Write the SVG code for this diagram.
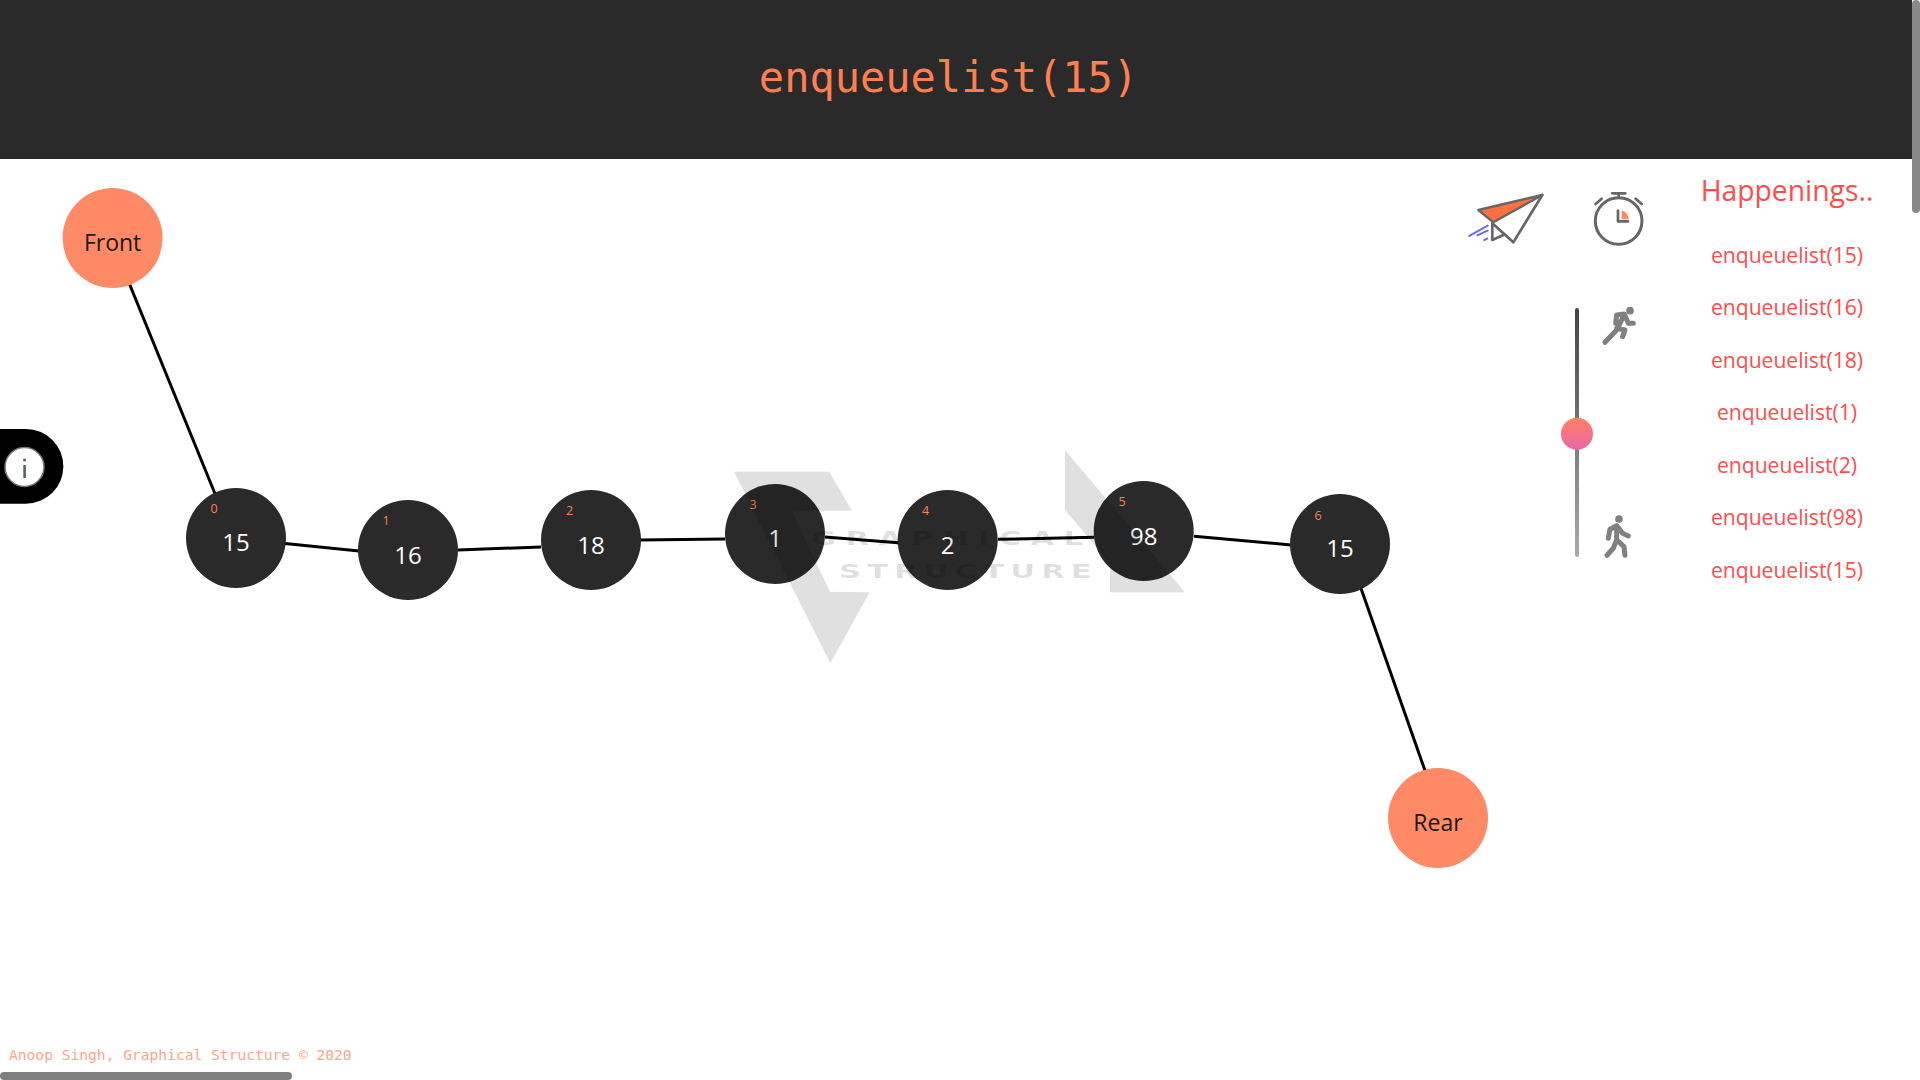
<svg xmlns="http://www.w3.org/2000/svg" width="1920" height="1080" viewBox="0 0 1920 1080">
<style>
text{font-family:"Open Sans","Noto Sans",sans-serif}
.node{fill:#2a2a2a}
.end{fill:#ff8a65}
.val{fill:#fff;font-size:24px;text-anchor:middle}
.idx{fill:#ff7f50;font-size:12.500px;text-anchor:middle}
.endt{fill:#1a1a1a;font-size:23px;text-anchor:middle}
.log{fill:#ff4d4d;font-size:21.100px;text-anchor:middle;font-weight:400}
.edge{stroke:#000;stroke-width:3;fill:none}
.wm{fill:#000;fill-opacity:.12}
.wt{font-family:"DejaVu Sans",sans-serif;font-weight:bold;font-size:19.200px;fill:#000;fill-opacity:.12}
.mono{font-family:"DejaVu Sans Mono",monospace}
.ic{fill:none;stroke:#666;stroke-width:8;stroke-linecap:round;stroke-linejoin:round}
.pers{fill:none;stroke:#808080;stroke-width:15;stroke-linecap:round;stroke-linejoin:round}
.sp{fill:none;stroke:#6a6aff;stroke-width:6;stroke-linecap:round}
</style>
<defs>
<linearGradient id="track" x1="0" y1="0" x2="0" y2="1"><stop offset="0" stop-color="#444"/><stop offset="1" stop-color="#aaa"/></linearGradient>
<linearGradient id="thumb" x1="0" y1="0" x2="0" y2="1"><stop offset="0" stop-color="#ff8060"/><stop offset="1" stop-color="#e868a8"/></linearGradient>
</defs>
<rect width="1920" height="1080" fill="#fff"/>
<g id="header"><rect width="1912" height="159" fill="#2a2a2a"/>
<text class="mono" x="948.500" y="92" style="font-size:42px;fill:#ff7f50" text-anchor="middle">enqueuelist(15)</text></g>
<g id="connectors">
<line class="edge" x1="125" y1="273" x2="220" y2="506"/>
<line class="edge" x1="285" y1="543.500" x2="359" y2="551"/>
<line class="edge" x1="458" y1="550" x2="541" y2="547"/>
<line class="edge" x1="640" y1="540" x2="725" y2="539"/>
<line class="edge" x1="825" y1="537" x2="898" y2="542.700"/>
<line class="edge" x1="998" y1="539.300" x2="1094.500" y2="537.300"/>
<line class="edge" x1="1194" y1="536.300" x2="1291" y2="545"/>
<line class="edge" x1="1357" y1="577" x2="1429" y2="782"/>
</g>
<g id="node-front"><circle class="end" cx="112.600" cy="238" r="50"/><text class="endt" x="112.600" y="251">Front</text></g>
<g id="node-0"><circle class="node" cx="236" cy="538" r="50"/><text class="idx" x="214" y="513">0</text><text class="val" x="236" y="551">15</text></g>
<g id="node-1"><circle class="node" cx="408" cy="550" r="50"/><text class="idx" x="386" y="525">1</text><text class="val" x="408" y="564">16</text></g>
<g id="node-2"><circle class="node" cx="591" cy="540" r="50"/><text class="idx" x="569.500" y="515">2</text><text class="val" x="591" y="554">18</text></g>
<g id="node-3"><circle class="node" cx="775" cy="534" r="50"/><text class="idx" x="753" y="509">3</text><text class="val" x="775" y="547">1</text></g>
<g id="node-4"><circle class="node" cx="947.700" cy="540" r="50"/><text class="idx" x="925.700" y="515">4</text><text class="val" x="947.700" y="554">2</text></g>
<g id="node-5"><circle class="node" cx="1143.700" cy="531" r="50"/><text class="idx" x="1122" y="506">5</text><text class="val" x="1143.700" y="545">98</text></g>
<g id="node-6"><circle class="node" cx="1340" cy="544" r="50"/><text class="idx" x="1318" y="520">6</text><text class="val" x="1340" y="557">15</text></g>
<g id="node-rear"><circle class="end" cx="1438" cy="818" r="50"/><text class="endt" x="1438" y="831">Rear</text></g>
<g id="watermark">
<polygon class="wm" points="734,471.700 829.300,471.700 852,510.700 791.700,510.700 830,591.700 869.700,592.300 830.300,663.300"/>
<polygon class="wm" points="1065,450 1185,592.300 1110,592.300 1110,563 1065,510"/>
<text class="wt" transform="translate(811 545) scale(1.600 1)" textLength="170" lengthAdjust="spacing">GRAPHICAL</text>
<text class="wt" transform="translate(839 578) scale(1.600 1)" textLength="158" lengthAdjust="spacing">STRUCTURE</text>
</g>
<g id="info"><path d="M0 429H26a37 37 0 0 1 0 74.700H0z" fill="#000"/><circle cx="24.500" cy="467" r="19.500" fill="#fff" stroke="#70747c" stroke-width="1.500"/><rect x="23.300" y="465" width="2.600" height="13" fill="#5a6070"/><circle cx="24.600" cy="460" r="1.600" fill="#5a6070"/></g>
<g id="plane" transform="translate(1440 160) scale(.3333)">
<polygon points="115,150 307,105 160,187" fill="#ff7040" stroke="#666" stroke-width="7" stroke-linejoin="round"/>
<path class="ic" d="M307 105L220 247L157 190M157 190V240L190 225"/>
<path class="sp" d="M88 228L143 197M112 226L143 212M133 240L142 236"/></g>
<g id="timer" transform="translate(1440 160) scale(.3333)">
<circle class="ic" cx="536" cy="183" r="70" style="stroke-width:9"/>
<path class="ic" d="M517 100H556M536 100V112M467 132L485 116M587 116L605 132"/>
<path d="M545 152A21 26 0 0 1 566 178H545z" fill="#ff8a65"/>
<path class="ic" d="M534 152V184H564"/></g>
<g id="slider"><rect x="1575" y="308" width="4" height="249" rx="2" fill="url(#track)"/><circle cx="1577" cy="433.700" r="16" fill="url(#thumb)"/></g>
<g id="runner" transform="translate(1440 160) scale(.3333)"><circle cx="570" cy="452" r="11.500" fill="#808080"/>
<path class="pers" d="M527 490L530 465L553 462L565 490H580M550 470L530 510L495 547M530 505L555 510L548 530"/></g>
<g id="walker" transform="translate(1440 160) scale(.3333)"><circle cx="537" cy="1077" r="11.500" fill="#808080"/>
<path class="pers" d="M505 1135L510 1108L530 1097L548 1120L565 1128M530 1097L530 1140L520 1165L501 1186M530 1140L552 1160L555 1186"/></g>
<g id="log">
<text x="1787" y="201" style="fill:#ff4d4d;font-size:28.300px;text-anchor:middle;font-weight:400">Happenings..</text>
<text class="log" x="1787" y="263">enqueuelist(15)</text>
<text class="log" x="1787" y="315">enqueuelist(16)</text>
<text class="log" x="1787" y="368">enqueuelist(18)</text>
<text class="log" x="1787" y="420">enqueuelist(1)</text>
<text class="log" x="1787" y="473">enqueuelist(2)</text>
<text class="log" x="1787" y="525">enqueuelist(98)</text>
<text class="log" x="1787" y="578">enqueuelist(15)</text></g>
<text id="footer" class="mono" x="9" y="1060" style="font-size:14.600px;fill:#ffa589">Anoop Singh, Graphical Structure © 2020</text>
<g id="scrollbars"><rect x="1912" y="0" width="8" height="213" rx="4" fill="#888"/><rect x="0" y="1072" width="292" height="8" rx="4" fill="#808080"/></g>
</svg>
